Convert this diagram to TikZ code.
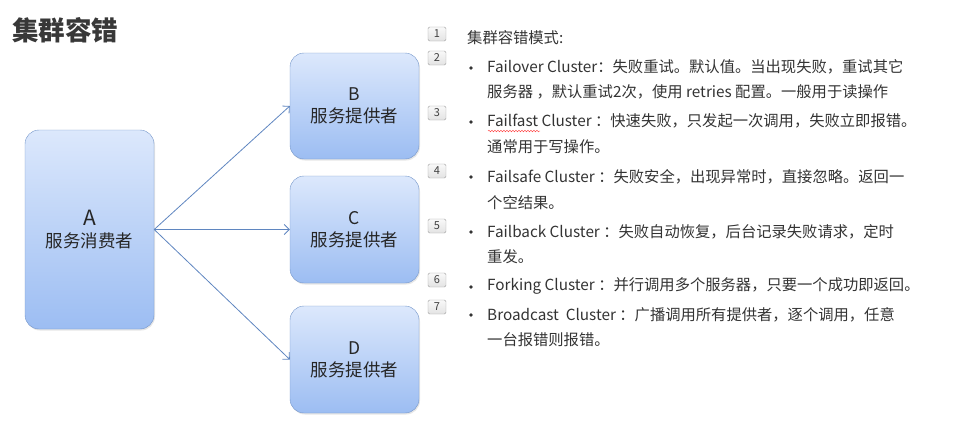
\documentclass[tikz,border=0pt]{standalone}
\usepackage{fontspec}
\setmainfont{Noto Sans CJK SC}
\usepackage{tikz}
\usetikzlibrary{arrows.meta, shadows, decorations.pathmorphing}

\definecolor{boxtop}{HTML}{DCE8FC}
\definecolor{boxbot}{HTML}{9CBDF2}
\definecolor{boxline}{HTML}{7496CA}
\definecolor{linkblue}{HTML}{5F86C0}

\begin{document}
\begin{tikzpicture}[x=1pt, y=-1pt,
        serv/.style={draw=boxline, rounded corners=14pt, top color=boxtop, bottom color=boxbot, align=center, minimum width=129pt, font=\fontsize{17.5}{22}\selectfont, text=black!85, drop shadow={opacity=0.2, shadow xshift=1pt, shadow yshift=-1.5pt}},
        num/.style={draw=gray!75, top color=gray!5, bottom color=gray!22, rounded corners=1.5pt, minimum width=18pt, minimum height=14pt, inner sep=0pt, font=\fontsize{11}{11}\selectfont, text=black!75},
        item/.style={anchor=west, align=left, inner sep=0pt, font=\fontsize{15.3}{25.5}\selectfont, text=black!80},
        dot/.style={circle, fill=black!80, inner sep=0pt, minimum size=3.6pt},
        link/.style={-{Straight Barb[length=5pt, width=10pt]}, linkblue, line width=0.8pt}
    ]
    \useasboundingbox (0,0) rectangle (953,434);

    % Title
    \node[anchor=west, inner sep=0pt, font=\fontsize{26.5}{26.5}\selectfont\bfseries, text=black!78] (title) at (12,30) {集群容错};

    % Consumer and providers
    \node[serv, minimum height=199pt] (a) at (89.5,229.5) {{\fontsize{21}{26}\selectfont A}\\服务消费者};
    \node[serv, minimum height=106pt] (b) at (354.5,106) {B\\服务提供者};
    \node[serv, minimum height=107pt] (c) at (354.5,229.5) {C\\服务提供者};
    \node[serv, minimum height=107pt] (d) at (354.5,359.5) {D\\服务提供者};

    \draw[link] (a.east) -- (b.west);
    \draw[link] (a.east) -- (c.west);
    \draw[link] (a.east) -- (d.west);

    % Slide numbers
    \foreach \n/\y in {1/34, 2/58, 3/113, 4/171, 5/226, 6/280, 7/307}
        \node[num] (n\n) at (437,\y) {\n};

    % Fault tolerance modes
    \node[item] (head) at (467,38) {集群容错模式:};
    \node[dot] (d1) at (471,68) {};
    \node[item] (failover) at (487,79.5) {Failover Cluster：失败重试。默认值。当出现失败，重试其它\\服务器 ，默认重试2次，使用 retries 配置。一般用于读操作};
    \node[dot] (d2) at (471,122) {};
    \node[item] (failfast) at (487,133.5) {Failfast Cluster ：快速失败，只发起一次调用，失败立即报错。\\通常用于写操作。};
    \draw[red!80, decorate, decoration={snake, amplitude=0.8pt, segment length=3pt}] (488,131) -- (540,131);
    \node[dot] (d3) at (471,177) {};
    \node[item] (failsafe) at (487,189.5) {Failsafe Cluster ：失败安全，出现异常时，直接忽略。返回一\\个空结果。};
    \node[dot] (d4) at (471,232) {};
    \node[item] (failback) at (487,244) {Failback Cluster ：失败自动恢复，后台记录失败请求，定时\\重发。};
    \node[dot] (d5) at (471,287) {};
    \node[item] (forking) at (487,286) {Forking Cluster ：并行调用多个服务器，只要一个成功即返回。};
    \node[dot] (d6) at (471,315) {};
    \node[item] (broadcast) at (487,327) {Broadcast\ \ Cluster ：广播调用所有提供者，逐个调用，任意\\一台报错则报错。};
\end{tikzpicture}
\end{document}
